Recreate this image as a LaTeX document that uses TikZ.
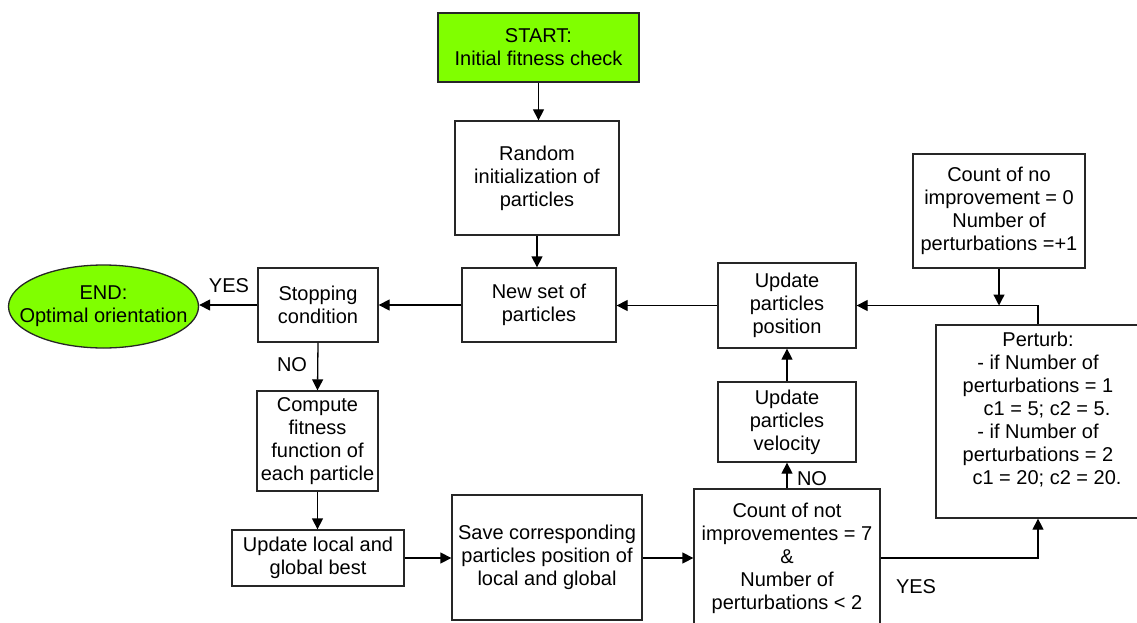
\documentclass[tikz,border=0pt]{standalone}
\usepackage{fontspec}
\setmainfont{Liberation Sans}
\usetikzlibrary{arrows.meta,shapes.geometric,calc}
\definecolor{lgreen}{RGB}{128,255,0}
\begin{document}
\begin{tikzpicture}[x=1pt,y=-1pt,
  font=\fontsize{20}{23}\selectfont,
  box/.style={draw=black!85,line width=1.3pt,fill=white,inner sep=0pt,align=center,minimum width=#1},
  arr/.style={line width=1.3pt,-{Triangle[length=11pt,width=11pt]}},
  ln/.style={line width=1.3pt},
  lbl/.style={inner sep=0pt}]
\clip (0,0) rectangle (1137,623);
\fill[white] (0,0) rectangle (1137,623);
% nodes
\node[box=201pt,minimum height=69pt,fill=lgreen] (start) at (538.5,47.5) {START:\\Initial fitness check};
\node[box=164pt,minimum height=114pt] (rand) at (537,178) {Random\\initialization of\\particles};
\node[box=154pt,minimum height=74pt] (newset) at (539,305) {New set of\\particles};
\node[box=120pt,minimum height=74pt] (stop) at (318,305) {Stopping\\condition};
\node[draw=black!85,line width=1.3pt,fill=lgreen,ellipse,inner sep=0pt,minimum width=190pt,minimum height=83pt] (end) at (103.5,306.5) {};
\node[lbl,align=center] (endtxt) at (end.center) {END:\\Optimal orientation};
\node[box=121pt,minimum height=100pt] (comp) at (317.5,441) {Compute\\fitness\\function of\\each particle};
\node[box=172pt,minimum height=56pt] (upd) at (318,558) {Update local and\\global best};
\node[box=190pt,minimum height=125pt] (save) at (547,557.5) {Save corresponding\\particles position of\\local and global};
\node[box=186pt,minimum height=138pt] (cnt) at (787,558) {Count of not\\improvementes = 7\\\&\\Number of\\perturbations < 2};
\node[box=138pt,minimum height=80pt] (vel) at (787,422) {Update\\particles\\velocity};
\node[box=138pt,minimum height=85pt] (pos) at (787,305.5) {Update\\particles\\position};
\node[box=172pt,minimum height=114pt] (noimp) at (999,211) {Count of no\\improvement = 0\\Number of\\perturbations =+1};
\node[box=204pt,minimum height=193pt] (pert) at (1038,421.5) {};
\node[lbl,align=center] (perttxt) at (1038,410) {Perturb:\\- if Number of\hspace{8pt}\\perturbations = 1\\\hspace{18pt}c1 = 5; c2 = 5.\\- if Number of\hspace{8pt}\\perturbations = 2\\\hspace{18pt}c1 = 20; c2 = 20.};
% connectors
\draw[arr] (start.south) -- (start.south |- rand.north);
\draw[arr] (rand.south) -- (rand.south |- newset.north);
\draw[arr] (newset.west) -- (stop.east);
\draw[arr] (stop.west) -- (stop.west -| end.east);
\draw[arr] (stop.south) -- (comp.north);
\draw[arr] (comp.south) -- (comp.south |- upd.north);
\draw[arr] (upd.east) -- (upd.east -| save.west);
\draw[arr] (save.east |- cnt.west) -- (cnt.west);
\draw[arr] (cnt.north) -- (vel.south);
\draw[arr] (vel.north) -- (pos.south);
\draw[arr] (pos.west) -- (pos.west -| newset.east);
\draw[arr] (cnt.east) -| (pert.south);
\draw[arr] (pert.north) |- (pos.east);
\coordinate (j) at (noimp.south |- pos.east);
\draw[arr] (noimp.south) -- (j);
% labels
\node[lbl] (yes1) at (229,286) {YES};
\node[lbl] (no1) at (292,365) {NO};
\node[lbl] (no2) at (812,479) {NO};
\node[lbl] (yes2) at (916,587) {YES};
\end{tikzpicture}
\end{document}
